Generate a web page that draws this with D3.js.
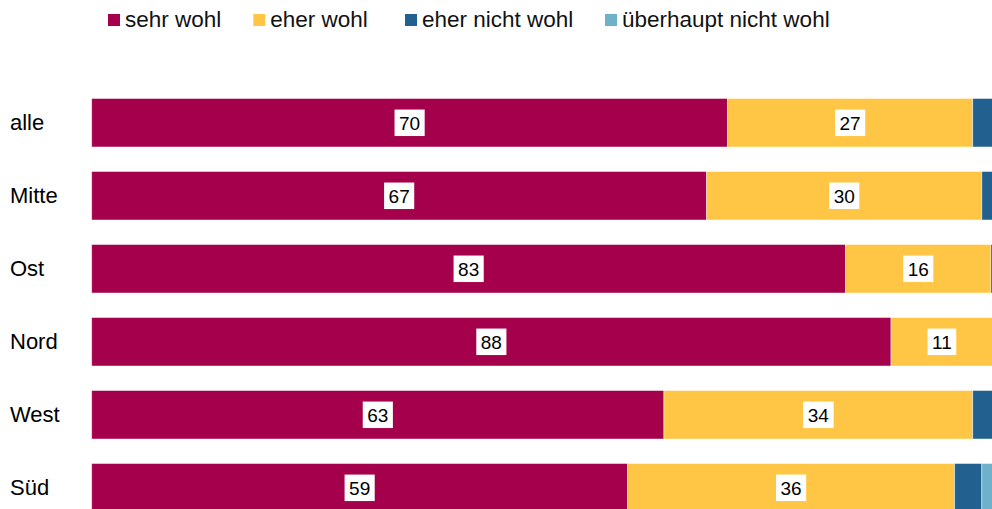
<!DOCTYPE html>
<html><head><meta charset="utf-8">
<script src="https://cdn.jsdelivr.net/npm/d3@7"></script>
<style>html,body{margin:0;padding:0;background:#fff;overflow:hidden}svg{display:block}</style>
</head><body>
<script>
const categories = ["alle","Mitte","Ost","Nord","West","Süd"];
const seriesNames = ["sehr wohl","eher wohl","eher nicht wohl","überhaupt nicht wohl"];
const sehrWohl        = [70, 67.7, 83, 88, 63, 59];
const eherWohl        = [27, 30.3, 16, 11.2, 34, 36];
const eherNichtWohl   = [3, 2, 1, 0.8, 3, 3];
const ueberhauptNicht = [0, 0, 0, 0, 0, 2];
const labelsSehr = ["70","67","83","88","63","59"];
const labelsEher = ["27","30","16","11","34","36"];
const colors = ["#A5004B","#FFC645","#22618F","#6FB1C8"];

const W = 992, H = 509;
const svg = d3.select("body").append("svg").attr("width", W).attr("height", H);
const font = "'Liberation Sans', Arial, sans-serif";

const x = d3.scaleLinear().domain([0,100]).range([91.7, 1000]);
const y = d3.scaleBand().domain(categories).range([98.5, 512]).paddingInner(0.336).paddingOuter(0);

const rows = categories.map((c,i)=>({cat:c, v:[sehrWohl[i], eherWohl[i], eherNichtWohl[i], ueberhauptNicht[i]]}));
const stack = d3.stack().keys([0,1,2,3]).value((d,k)=>d.v[k]);
const series = stack(rows);

series.forEach((s,k)=>{
  svg.append("g").selectAll("rect").data(s).join("rect")
    .attr("x", d=>x(d[0])).attr("width", d=>Math.max(0, x(d[1])-x(d[0])))
    .attr("y", d=>y(d.data.cat)).attr("height", y.bandwidth())
    .attr("fill", colors[k]).attr("stroke", "#fff").attr("stroke-opacity", 0.55).attr("stroke-width", 0.8);
});

// category labels
svg.append("g").selectAll("text").data(categories).join("text")
  .attr("x", 10).attr("y", d=>y(d)+y.bandwidth()/2 + 7)
  .attr("font-family", font).attr("font-size", 22).attr("fill", "#000").text(d=>d);

// value labels
function addLabels(k, labels){
  const g = svg.append("g");
  series[k].forEach((d,i)=>{
    const cx = (x(d[0])+x(d[1]))/2, cy = y(d.data.cat)+y.bandwidth()/2;
    const t = g.append("text").attr("x", cx).attr("y", cy+6.8).attr("text-anchor","middle")
      .attr("font-family", font).attr("font-size", 19).attr("fill","#000").text(labels[i]);
    const bb = t.node().getBBox();
    g.insert("rect", "text").attr("x", cx - bb.width/2 - 4.5).attr("width", bb.width + 9)
      .attr("y", cy - 13.2).attr("height", 26.5).attr("fill", "#fff");
  });
}
addLabels(0, labelsSehr);
addLabels(1, labelsEher);

// legend
const legendX = [108, 253.3, 405, 605];
const lg = svg.append("g");
seriesNames.forEach((n,k)=>{
  lg.append("rect").attr("x", legendX[k]).attr("y", 14).attr("width", 12).attr("height", 12).attr("fill", colors[k]);
  lg.append("text").attr("x", legendX[k]+17).attr("y", 27).attr("font-family", font).attr("font-size", 22.5)
    .attr("fill", "#111").text(n);
});
</script>
</body></html>
